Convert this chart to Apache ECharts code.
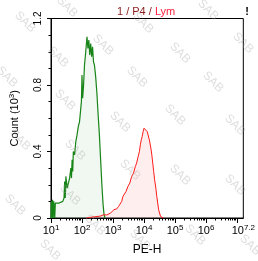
<!DOCTYPE html>
<html>
<head>
<meta charset="utf-8">
<script src="https://cdn.jsdelivr.net/npm/echarts@6/dist/echarts.min.js"></script>
<style>
  html, body { margin: 0; padding: 0; background: #fff; }
  #chart { width: 258px; height: 261px; }
</style>
</head>
<body>
<div id="chart"></div>
<script>
// x values are log10(PE-H), y values are counts in 10^3
var greenX = [1.00, 1.01, 1.03, 1.05, 1.07, 1.09, 1.12, 1.14, 1.20, 1.26, 1.32, 1.38, 1.42, 1.44, 1.46, 1.48,
              1.52, 1.56, 1.60, 1.64, 1.66, 1.68, 1.70, 1.72, 1.76, 1.80, 1.84, 1.88, 1.92, 1.95, 1.98, 2.00,
              2.02, 2.05, 2.08, 2.12, 2.16, 2.19, 2.22, 2.25, 2.28, 2.31, 2.34, 2.37, 2.40, 2.44, 2.48, 2.52,
              2.56, 2.60, 2.64, 2.68, 2.71, 2.74];
var greenY = [0.00, 0.10, 0.00, 0.11, 0.00, 0.10, 0.00, 0.09, 0.10, 0.09, 0.10, 0.10, 0.12, 0.22, 0.12, 0.25,
              0.18, 0.21, 0.24, 0.30, 0.24, 0.35, 0.28, 0.40, 0.38, 0.46, 0.50, 0.55, 0.58, 0.64, 0.70, 0.86,
              0.72, 0.80, 0.92, 1.00, 1.09, 1.02, 1.07, 0.98, 1.05, 0.97, 1.03, 0.94, 0.92, 0.85, 0.75, 0.62,
              0.50, 0.35, 0.20, 0.08, 0.02, 0.00];

var redX = [2.15, 2.30, 2.45, 2.60, 2.70, 2.80, 2.86, 2.92, 2.98, 3.03, 3.07, 3.12, 3.18, 3.23, 3.28, 3.32,
            3.37, 3.42, 3.48, 3.54, 3.60, 3.66, 3.72, 3.76, 3.81, 3.85, 3.88, 3.91, 3.94, 3.97, 4.00, 4.03,
            4.06, 4.10, 4.13, 4.17, 4.22, 4.25, 4.28, 4.31, 4.34, 4.38, 4.41, 4.44, 4.47, 4.50, 4.53, 4.57, 4.62];
var redY = [0.00, 0.005, 0.008, 0.012, 0.02, 0.018, 0.025, 0.03, 0.035, 0.05, 0.06, 0.055, 0.07, 0.08, 0.10, 0.13,
            0.14, 0.16, 0.19, 0.21, 0.25, 0.27, 0.31, 0.33, 0.37, 0.40, 0.44, 0.47, 0.49, 0.52, 0.54, 0.53,
            0.54, 0.52, 0.50, 0.47, 0.42, 0.38, 0.33, 0.28, 0.23, 0.18, 0.13, 0.09, 0.05, 0.03, 0.01, 0.004, 0.00];

var xMajorTicks = [1, 2, 3, 4, 5, 6, 7];
var xLabelValues = [1, 2, 3, 4, 5, 6, 7.2];
var yTicks = [0, 0.4, 0.8, 1.2];

// log-spaced minor ticks 2..9 inside each decade
var xMinorTicks = [];
for (var n = 1; n < 8; n++) {
    for (var k = 2; k <= 9; k++) {
        var v = n + Math.log10(k);
        if (v < 7.2) xMinorTicks.push(v);
    }
}

function pairs(xs, ys) {
    return xs.map(function (x, i) { return [x, ys[i]]; });
}

// watermark spots (pixels)
var marks = [[25, 22], [67, 7], [103, 45], [143, 23], [180, 53], [208, 10], [243, 43], [58, 57], [7, 77],
             [137, 77], [213, 82], [65, 100], [120, 122], [175, 115], [235, 125], [20, 140], [75, 150],
             [130, 170], [180, 175], [235, 185], [15, 205], [70, 195], [95, 225], [140, 240], [195, 235],
             [250, 245], [50, 250]];

var chart = echarts.init(document.getElementById('chart'));
var font = 'Liberation Sans';

var option = {
    animation: false,
    title: {
        text: '{a|1 / P4 / }{b|Lym}',
        left: 112,
        top: 1,
        textStyle: {
            rich: {
                a: { fontFamily: font, fontSize: 11, fontWeight: 'normal', color: '#8b1c1c' },
                b: { fontFamily: font, fontSize: 11, fontWeight: 'normal', color: '#ff1f3d' }
            }
        }
    },
    grid: {
        left: 43, right: 13, top: 18.5, bottom: 43,
        show: true, borderColor: '#000', borderWidth: 1
    },
    xAxis: [
        {
            type: 'value', min: 1, max: 7.2,
            name: 'PE-H', nameLocation: 'middle', nameGap: 26,
            nameTextStyle: { fontFamily: font, fontSize: 12, color: '#000' },
            axisLine: { lineStyle: { color: '#000' } },
            axisTick: { customValues: xMajorTicks, length: 5, lineStyle: { color: '#000' } },
            splitLine: { show: false },
            axisLabel: {
                customValues: xLabelValues,
                margin: 6,
                formatter: function (v) { return '{b|10}{s|' + (Math.round(v * 10) / 10) + '}'; },
                rich: {
                    b: { fontFamily: font, fontSize: 11, color: '#000', lineHeight: 14 },
                    s: { fontFamily: font, fontSize: 8, color: '#000', verticalAlign: 'top', lineHeight: 9 }
                }
            }
        },
        {
            type: 'value', min: 1, max: 7.2, position: 'bottom',
            axisLine: { show: false },
            axisLabel: { show: false },
            splitLine: { show: false },
            axisTick: { customValues: xMinorTicks, length: 2.5, lineStyle: { color: '#000' } }
        }
    ],
    yAxis: {
        type: 'value', min: 0, max: 1.2, interval: 0.4,
        name: '{a|Count (10}{s|3}{a|)}', nameLocation: 'middle', nameGap: 30,
        nameTextStyle: {
            rich: {
                a: { fontFamily: font, fontSize: 11, color: '#000', lineHeight: 13 },
                s: { fontFamily: font, fontSize: 8, color: '#000', verticalAlign: 'top', lineHeight: 8 }
            }
        },
        axisLine: { show: true, lineStyle: { color: '#000' } },
        axisTick: { show: true, length: 4, lineStyle: { color: '#000' } },
        minorTick: { show: true, splitNumber: 4, length: 2.5, lineStyle: { color: '#000' } },
        splitLine: { show: false },
        axisLabel: {
            rotate: 90, margin: 8,
            fontFamily: font, fontSize: 10, color: '#000',
            formatter: function (v) { return yTicks.indexOf(v) >= 0 ? String(v) : ''; }
        }
    },
    graphic: marks.map(function (p) {
        return {
            type: 'text', x: p[0], y: p[1], rotation: -Math.PI / 4, z: 100, silent: true,
            style: {
                text: 'SAB', fontFamily: font, fontSize: 12,
                fill: 'rgba(160,160,160,0.35)', align: 'center', verticalAlign: 'middle'
            }
        };
    }).concat([{
        type: 'text', x: 247, y: 12, z: 101,
        style: { text: '!', fontFamily: font, fontSize: 11, fontWeight: 'bold', fill: '#000',
                 align: 'center', verticalAlign: 'middle' }
    }]),
    series: [
        {
            name: 'green', type: 'line', xAxisIndex: 0, showSymbol: false,
            data: pairs(greenX, greenY),
            lineStyle: { color: '#168416', width: 1.2 },
            areaStyle: { color: 'rgba(30,138,30,0.09)' }
        },
        {
            name: 'red', type: 'line', xAxisIndex: 0, showSymbol: false,
            data: pairs(redX, redY),
            lineStyle: { color: '#ff1a1a', width: 1 },
            areaStyle: { color: 'rgba(255,60,60,0.12)' }
        }
    ]
};
chart.setOption(option);
</script>
</body>
</html>
